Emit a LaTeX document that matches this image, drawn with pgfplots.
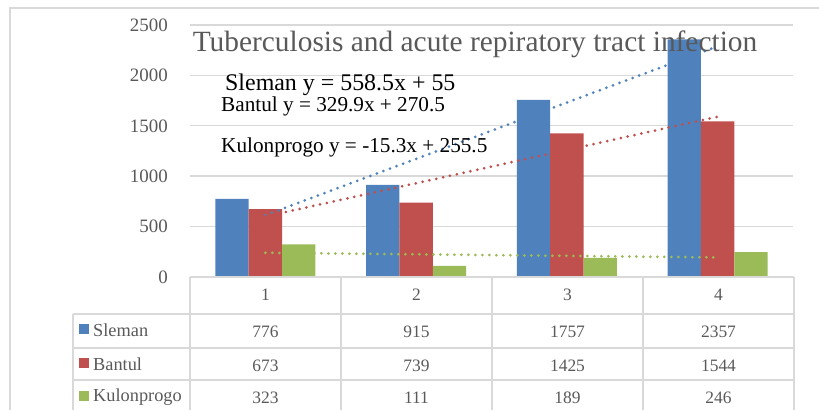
\documentclass[border=0pt]{standalone}
\usepackage{pgfplots}
\pgfplotsset{compat=1.18}
\usepackage{fontspec}
\setmainfont{Liberation Serif}
\definecolor{cS}{HTML}{4F81BD}
\definecolor{cB}{HTML}{C0504D}
\definecolor{cK}{HTML}{9BBB59}
\definecolor{txt}{HTML}{595959}
\definecolor{cgrid}{HTML}{D9D9D9}
\begin{document}
\begin{tikzpicture}[x=1bp,y=1bp]
\path[use as bounding box] (0,0) rectangle (819,410);
% outer frame
\draw[color=cgrid, line width=2.2bp] (10,0) -- (10,402) -- (819,402);
\begin{axis}[
  at={(190bp,133bp)}, anchor=south west,
  scale only axis, width=603bp, height=252bp,
  xmin=0.5, xmax=4.5, ymin=0, ymax=2500,
  axis line style={draw=none},
  ytick={0,500,1000,1500,2000,2500},
  xtick=\empty,
  ymajorgrids, grid style={color=cgrid, line width=1.4bp},
  major tick length=0pt,
  /pgf/number format/assume math mode=true,
  /pgf/number format/1000 sep={},
  yticklabel style={font=\fontsize{19}{19}\selectfont, text=txt, anchor=east, inner sep=0pt, xshift=-22bp},
  clip=false,
  bar width=0.221,
]
\addplot[ybar, fill=cS, draw=none, bar shift=-0.221] coordinates {(1,776)(2,915)(3,1757)(4,2357)};
\addplot[ybar, fill=cB, draw=none, bar shift=0] coordinates {(1,673)(2,739)(3,1425)(4,1544)};
\addplot[ybar, fill=cK, draw=none, bar shift=0.221] coordinates {(1,323)(2,111)(3,189)(4,246)};
\addplot[cS, line width=3bp, line cap=round, dash pattern=on 0pt off 7bp] coordinates {(1,613.5)(4,2289)};
\addplot[cB, line width=3bp, line cap=round, dash pattern=on 0pt off 7bp] coordinates {(1,600.4)(4,1590.1)};
\addplot[cK, line width=3bp, line cap=round, dash pattern=on 0pt off 7bp] coordinates {(1,240.2)(4,194.3)};
\end{axis}
% title and equations
\node[text=txt, font=\fontsize{29.5}{29.5}\selectfont] at (475,366) {Tuberculosis and acute repiratory tract infection};
\node[anchor=west, inner sep=0pt, font=\fontsize{24}{24}\selectfont] at (225,325) {Sleman y = 558.5x + 55};
\node[anchor=west, inner sep=0pt, font=\fontsize{21.3}{21.3}\selectfont] at (221,304) {Bantul y = 329.9x + 270.5};
\node[anchor=west, inner sep=0pt, font=\fontsize{21.3}{21.3}\selectfont] at (221,263) {Kulonprogo y = -15.3x + 255.5};
% data table
\begin{scope}[color=cgrid, line width=1.6bp]
\draw (190,133) -- (794,133);
\foreach \y in {96,62,30} \draw (73,\y) -- (794,\y);
\foreach \x in {190,341,492,643,794} \draw (\x,133) -- (\x,0);
\draw (73,96) -- (73,0);
\end{scope}
\begin{scope}[font=\fontsize{17.5}{17.5}\selectfont, text=txt]
\foreach \x/\t in {265.5/1,416.5/2,567.5/3,718.5/4} \node at (\x,115) {\t};
\foreach \x/\t in {265.5/776,416.5/915,567.5/1757,718.5/2357} \node at (\x,78) {\t};
\foreach \x/\t in {265.5/673,416.5/739,567.5/1425,718.5/1544} \node at (\x,44) {\t};
\foreach \x/\t in {265.5/323,416.5/111,567.5/189,718.5/246} \node at (\x,12) {\t};
\fill[cS] (79,76) rectangle (89,86);
\fill[cB] (79,42) rectangle (89,52);
\fill[cK] (79,9) rectangle (89,19);
\end{scope}
\begin{scope}[font=\fontsize{18.4}{18.4}\selectfont, text=txt]
\node[anchor=west, inner sep=0pt] at (93,80) {Sleman};
\node[anchor=west, inner sep=0pt] at (93,46) {Bantul};
\node[anchor=west, inner sep=0pt] at (93,13) {Kulonprogo};
\end{scope}
\end{tikzpicture}
\end{document}
